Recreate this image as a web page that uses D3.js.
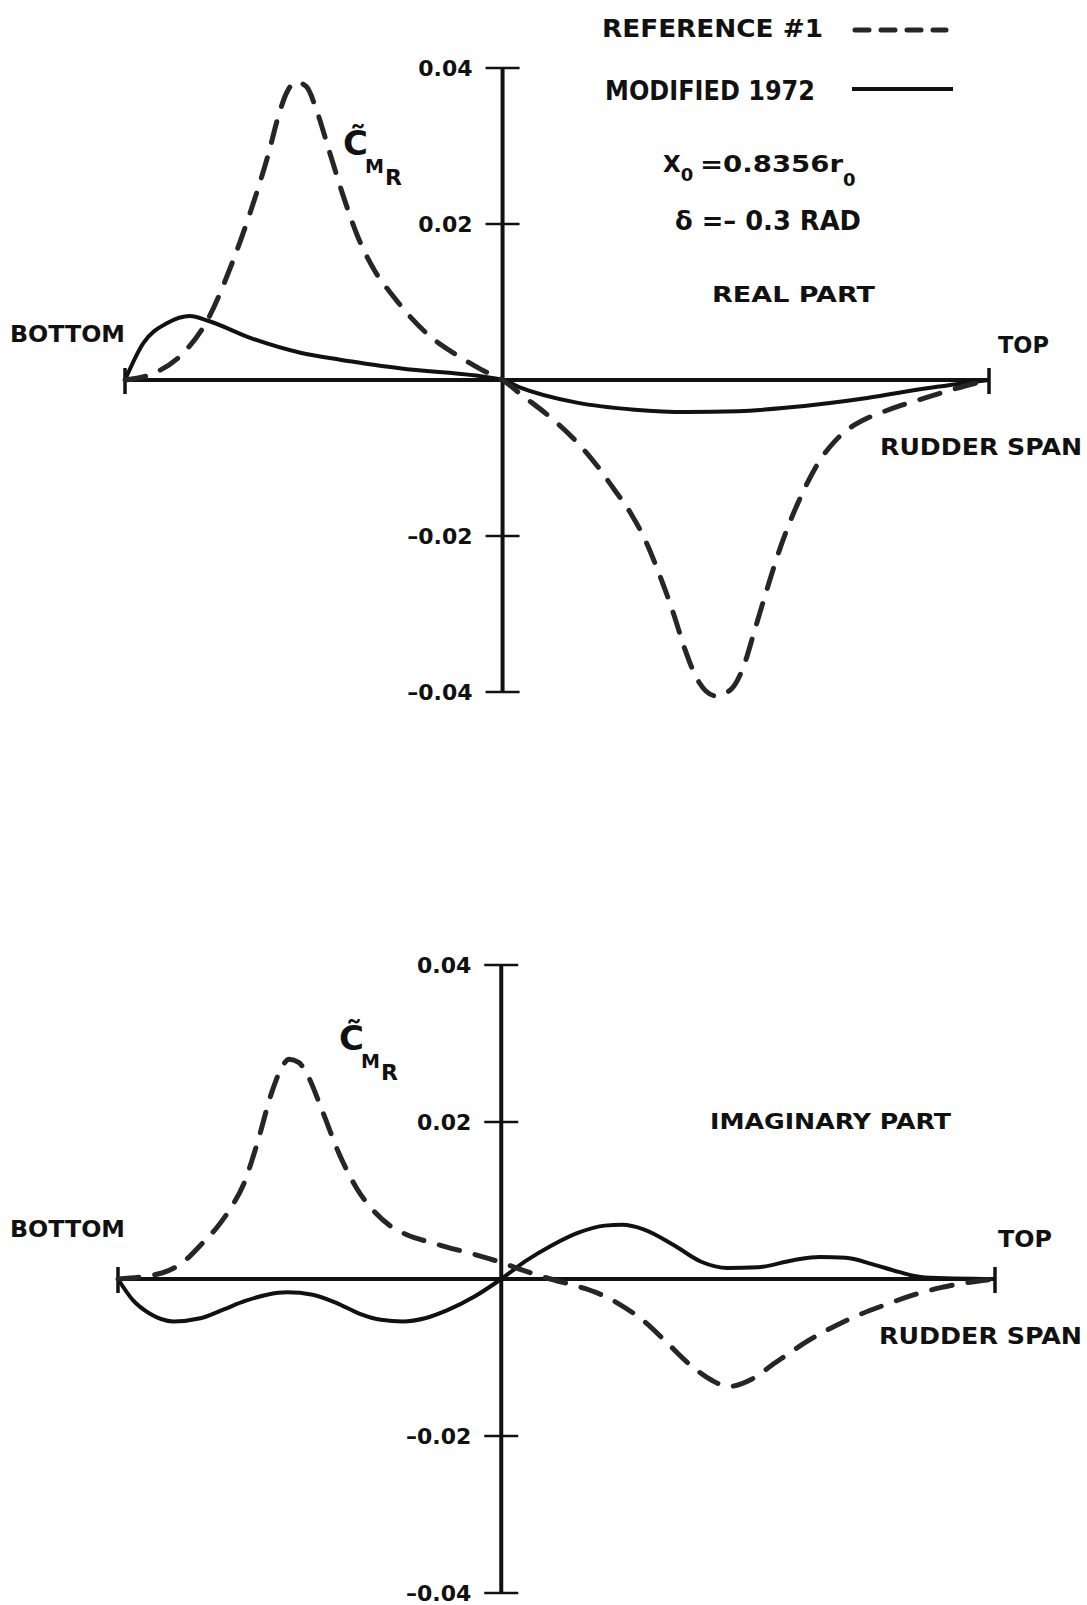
<!DOCTYPE html>
<html>
<head>
<meta charset="utf-8">
<script src="https://cdnjs.cloudflare.com/ajax/libs/d3/7.8.5/d3.min.js"></script>
<style>
  body { margin: 0; background: #fff; }
  svg { display: block; }
  text { font-family: "DejaVu Sans", sans-serif; font-weight: bold; fill: #111; }
</style>
</head>
<body>
<svg width="1087" height="1605"></svg>
<script>
// tick values on the C_MR axis
var yTickValues = [0.04, 0.02, -0.02, -0.04];
var yTickLabels = ["0.04", "0.02", "\u20130.02", "\u20130.04"];
var axisSpan = 0.437; // where the C_MR axis crosses the rudder span

// real part, reference #1 (dashed)
var realRefSpan = [0, 0.034, 0.066, 0.096, 0.124, 0.145, 0.166, 0.178, 0.187, 0.198, 0.210, 0.222, 0.236, 0.252, 0.269, 0.289, 0.310, 0.331, 0.352, 0.384, 0.413, 0.437, 0.460, 0.486, 0.519, 0.545, 0.566, 0.586, 0.602, 0.617, 0.635, 0.648, 0.662, 0.684, 0.702, 0.715, 0.729, 0.742, 0.760, 0.782, 0.806, 0.822, 0.837, 0.857, 0.877, 0.900, 0.926, 0.971, 1];
var realRefValue = [0, 0.0009, 0.0033, 0.0078, 0.015, 0.0215, 0.029, 0.034, 0.0368, 0.0382, 0.0376, 0.0345, 0.0295, 0.0238, 0.0185, 0.014, 0.0108, 0.008, 0.0057, 0.0032, 0.0013, 0, -0.002, -0.0042, -0.0075, -0.0108, -0.014, -0.0172, -0.0205, -0.0245, -0.030, -0.0345, -0.0383, -0.0405, -0.0396, -0.037, -0.032, -0.0272, -0.021, -0.015, -0.01, -0.0078, -0.0063, -0.005, -0.0041, -0.0032, -0.0023, -0.0008, 0];

// real part, modified 1972 (solid)
var realModSpan = [0, 0.021, 0.049, 0.075, 0.096, 0.145, 0.203, 0.249, 0.318, 0.437, 0.456, 0.523, 0.590, 0.650, 0.710, 0.770, 0.859, 0.926, 1];
var realModValue = [0, 0.0047, 0.0073, 0.0082, 0.0076, 0.0054, 0.0035, 0.0026, 0.0015, 0, -0.0009, -0.0029, -0.0038, -0.0041, -0.004, -0.0035, -0.0023, -0.0011, 0];

// imaginary part, reference #1 (dashed)
var imagRefSpan = [0, 0.051, 0.079, 0.094, 0.113, 0.130, 0.143, 0.158, 0.176, 0.186, 0.195, 0.206, 0.216, 0.233, 0.252, 0.273, 0.293, 0.310, 0.330, 0.355, 0.374, 0.423, 0.437, 0.457, 0.493, 0.520, 0.545, 0.570, 0.599, 0.625, 0.651, 0.677, 0.696, 0.722, 0.749, 0.788, 0.832, 0.877, 0.908, 0.938, 1];
var imagRefValue = [0, 0.0008, 0.0026, 0.0043, 0.0066, 0.0093, 0.012, 0.017, 0.024, 0.0268, 0.028, 0.0276, 0.026, 0.0214, 0.016, 0.0114, 0.0085, 0.0068, 0.0056, 0.0047, 0.0041, 0.0026, 0.0021, 0.0013, 0, -0.0008, -0.0017, -0.0031, -0.0053, -0.008, -0.0108, -0.0129, -0.0137, -0.0128, -0.0107, -0.0078, -0.0052, -0.0032, -0.002, -0.0011, 0];

// imaginary part, modified 1972 (solid)
var imagModSpan = [0, 0.017, 0.036, 0.063, 0.094, 0.120, 0.145, 0.170, 0.193, 0.222, 0.250, 0.275, 0.300, 0.325, 0.350, 0.375, 0.407, 0.437, 0.465, 0.495, 0.525, 0.555, 0.575, 0.600, 0.634, 0.665, 0.695, 0.730, 0.770, 0.800, 0.830, 0.860, 0.890, 0.920, 1];
var imagModValue = [0, -0.0027, -0.0044, -0.0054, -0.005, -0.0039, -0.0028, -0.002, -0.0017, -0.002, -0.0031, -0.0044, -0.0052, -0.0054, -0.005, -0.004, -0.0022, 0, 0.0023, 0.0043, 0.0059, 0.0068, 0.0069, 0.0063, 0.0043, 0.0022, 0.0014, 0.0015, 0.0024, 0.0028, 0.0027, 0.0019, 0.0009, 0.0002, 0];

var svg = d3.select("svg");
var ink = "#111";
var dashInk = "#262626";

function label(t, x, y, w, size){
  var el = svg.append("text")
    .attr("x", x)
    .attr("y", y)
    .attr("font-size", size)
    .text(t);
  if (w) el.attr("textLength", w).attr("lengthAdjust", "spacingAndGlyphs");
  return el;
}

function panel(p){
  var x = d3.scaleLinear().domain([0, 1]).range(p.xRange);
  var y = d3.scaleLinear().domain([-0.04, 0.04]).range(p.yRange);
  var x0 = x(axisSpan), y0 = y(0);

  // span line with end marks
  svg.append("line")
    .attr("x1", x(0)).attr("x2", x(1))
    .attr("y1", y0).attr("y2", y0)
    .attr("stroke", ink).attr("stroke-width", 4);
  [0, 1].forEach(function(d){
    svg.append("line")
      .attr("x1", x(d)).attr("x2", x(d))
      .attr("y1", y0 - 12).attr("y2", y0 + 14)
      .attr("stroke", ink).attr("stroke-width", 3.5);
  });

  // C_MR axis
  var ax = svg.append("g")
    .attr("transform", "translate(" + x0 + ",0)")
    .call(d3.axisLeft(y)
      .tickValues(yTickValues)
      .tickFormat(function(d, i){ return yTickLabels[i]; })
      .tickSize(0)
      .tickPadding(30));
  ax.select(".domain").remove();
  ax.selectAll("text")
    .attr("font-family", "DejaVu Sans")
    .attr("font-weight", "bold")
    .attr("font-size", 22)
    .attr("fill", ink);

  svg.append("line")
    .attr("x1", x0).attr("x2", x0)
    .attr("y1", y(0.04)).attr("y2", y(-0.04))
    .attr("stroke", ink).attr("stroke-width", 4);
  svg.selectAll(null)
    .data(yTickValues)
    .enter().append("line")
    .attr("x1", x0 - 17).attr("x2", x0 + 17)
    .attr("y1", function(d){ return y(d); })
    .attr("y2", function(d){ return y(d); })
    .attr("stroke", ink).attr("stroke-width", 2.5);

  var line = d3.line()
    .x(function(d){ return x(d[0]); })
    .y(function(d){ return y(d[1]); })
    .curve(d3.curveMonotoneX);

  svg.append("path")
    .datum(d3.zip(p.modSpan, p.modValue))
    .attr("d", line)
    .attr("fill", "none")
    .attr("stroke", ink)
    .attr("stroke-width", 4);

  svg.append("path")
    .datum(d3.zip(p.refSpan, p.refValue))
    .attr("d", line)
    .attr("fill", "none")
    .attr("stroke", dashInk)
    .attr("stroke-width", 5)
    .attr("stroke-linecap", "round")
    .attr("stroke-dasharray", "21,16");
}

panel({
  xRange: [125, 989], yRange: [692, 68],
  refSpan: realRefSpan, refValue: realRefValue,
  modSpan: realModSpan, modValue: realModValue
});
panel({
  xRange: [118, 995], yRange: [1593, 965],
  refSpan: imagRefSpan, refValue: imagRefValue,
  modSpan: imagModSpan, modValue: imagModValue
});

// legend
label("REFERENCE #1", 602, 37, 221, 25);
label("MODIFIED 1972", 605, 100, 210, 26);
svg.append("line")
  .attr("x1", 855).attr("x2", 946).attr("y1", 30).attr("y2", 30)
  .attr("stroke", dashInk).attr("stroke-width", 5)
  .attr("stroke-linecap", "round").attr("stroke-dasharray", "14,12");
svg.append("line")
  .attr("x1", 852).attr("x2", 953).attr("y1", 89).attr("y2", 89)
  .attr("stroke", ink).attr("stroke-width", 4);

// parameters
var xo = svg.append("text").attr("x", 663).attr("y", 172).attr("font-size", 23);
xo.append("tspan").text("X");
xo.append("tspan").attr("dy", 9).attr("font-size", 18).text("0");
xo.append("tspan").attr("x", 700).attr("dy", -9).attr("textLength", 143).attr("lengthAdjust", "spacingAndGlyphs").text("=0.8356r");
xo.append("tspan").attr("dy", 14).attr("font-size", 18).text("0");
label("\u03b4 =\u2013 0.3 RAD", 675, 230, 186, 26);
label("REAL PART", 712, 302, 163, 22);
label("IMAGINARY PART", 710, 1129, 241, 22);

// span end labels
label("BOTTOM", 10, 342, 115, 23);
label("TOP", 998, 353, 51, 23);
label("RUDDER SPAN", 880, 455, 202, 23);
label("BOTTOM", 10, 1237, 115, 23);
label("TOP", 998, 1247, 54, 23);
label("RUDDER SPAN", 879, 1344, 203, 23);

// C_MR labels
[[343, 155], [339, 1050]].forEach(function(c){
  label("C\u0303", c[0], c[1], null, 34);
  label("M", c[0] + 22, c[1] + 18, null, 19);
  label("R", c[0] + 42, c[1] + 30, null, 22);
});
</script>
</body>
</html>
